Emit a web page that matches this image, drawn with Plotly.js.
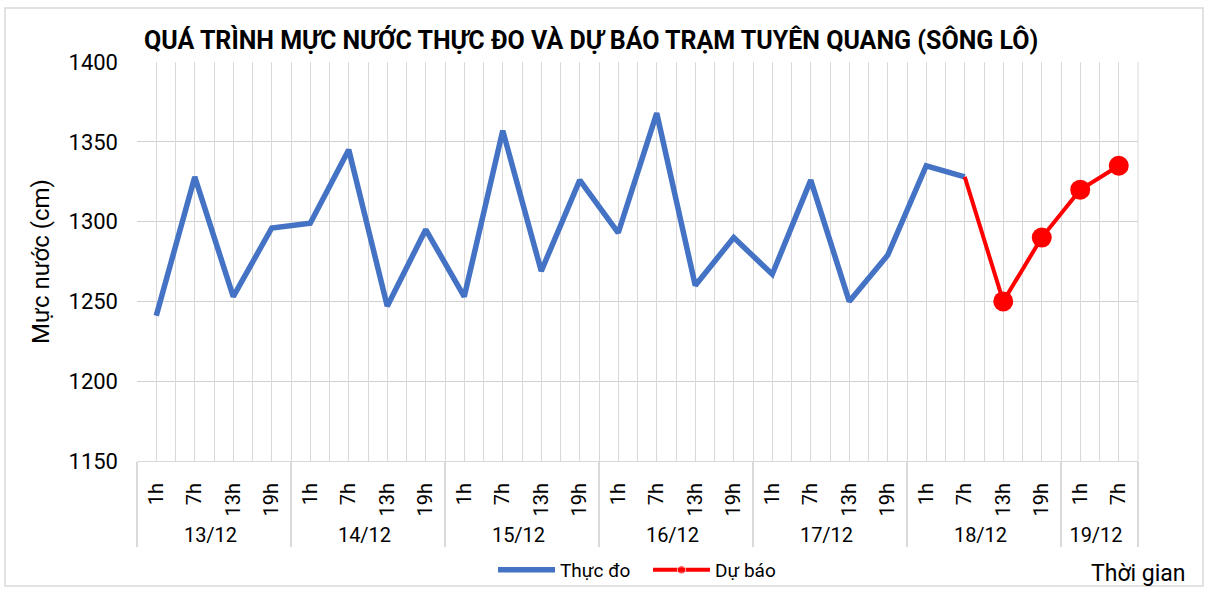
<!DOCTYPE html>
<html>
<head>
<meta charset="utf-8">
<script src="https://cdn.plot.ly/plotly-3.0.1.min.js"></script>
<style>html,body{margin:0;padding:0;background:#fff;}#chart{width:1209px;height:589px;}</style>
</head>
<body>
<div id="chart"></div>
<script>
// Categories
const days = ["13/12","13/12","13/12","13/12","14/12","14/12","14/12","14/12","15/12","15/12","15/12","15/12","16/12","16/12","16/12","16/12","17/12","17/12","17/12","17/12","18/12","18/12","18/12","18/12","19/12","19/12"];
const hours = ["1h","7h","13h","19h","1h","7h","13h","19h","1h","7h","13h","19h","1h","7h","13h","19h","1h","7h","13h","19h","1h","7h","13h","19h","1h","7h"];

// Observed (Thực đo): 13/12 1h .. 18/12 7h
const observed = [1241,1328,1253,1296,1299,1345,1247,1295,1253,1357,1269,1326,1293,1368,1260,1290,1267,1326,1250,1279,1335,1328];

// Forecast (Dự báo): 18/12 7h .. 19/12 7h
const forecastDays = ["18/12","18/12","18/12","19/12","19/12"];
const forecastHours = ["7h","13h","19h","1h","7h"];
const forecast = [1328,1250,1290,1320,1335];

const nObs = observed.length;
const nCat = hours.length;

const traces = [
  {
    // invisible helper to host the fine vertical grid
    type: "scatter", mode: "markers", x: [-0.5, nCat - 0.5], y: [1150, 1150],
    marker: {opacity: 0}, showlegend: false, hoverinfo: "skip",
    xaxis: "x2", yaxis: "y"
  },
  {
    type: "scatter", mode: "lines", name: "Thực đo",
    x: [days.slice(0, nObs), hours.slice(0, nObs)], y: observed,
    line: {color: "#4472C4", width: 5.5},
    xaxis: "x", yaxis: "y"
  },
  {
    type: "scatter", mode: "lines+markers", name: "Dự báo",
    x: [forecastDays, forecastHours], y: forecast,
    line: {color: "#FF0000", width: 4},
    marker: {color: "#FF0000", size: forecast.map((v, i) => i === 0 ? 0 : 10.5)},
    xaxis: "x", yaxis: "y"
  },
  {
    type: "scatter", mode: "markers", name: "Dự báo", showlegend: false,
    x: [forecastDays.slice(1), forecastHours.slice(1)], y: forecast.slice(1),
    marker: {color: "#FF0000", size: 20},
    xaxis: "x", yaxis: "y"
  }
];

const layout = {
  width: 1209, height: 589,
  margin: {l: 137, r: 71, t: 62, b: 128},
  paper_bgcolor: "#ffffff", plot_bgcolor: "#ffffff",
  font: {family: "Roboto, 'Open Sans', sans-serif", color: "#000"},
  title: {
    text: "<b>QUÁ TRÌNH MỰC NƯỚC THỰC ĐO VÀ DỰ BÁO TRẠM TUYÊN QUANG (SÔNG LÔ)</b>",
    font: {size: 25, color: "#000", family: "Roboto, sans-serif"},
    xref: "container", yref: "container",
    x: 0.489, xanchor: "center", y: 0.932, yanchor: "middle"
  },
  xaxis: {
    type: "multicategory",
    range: [-0.5, nCat - 0.5],
    automargin: false,
    showgrid: false, zeroline: false,
    tickangle: -90,
    tickfont: {size: 20, color: "#000"},
    ticklabelstandoff: 13,
    showline: true, linecolor: "#d9d9d9", linewidth: 1,
    ticks: "",
    showdividers: true, dividercolor: "#d9d9d9", dividerwidth: 2
  },
  xaxis2: {
    overlaying: "x", range: [-0.5, nCat - 0.5], automargin: false,
    tick0: -0.5, dtick: 0.5, showgrid: true, gridcolor: "#d9d9d9", gridwidth: 1,
    showticklabels: false, zeroline: false, ticks: "", layer: "below traces"
  },
  yaxis: {
    range: [1150, 1400], dtick: 50, automargin: false,
    showgrid: true, gridcolor: "#d0d0d0", gridwidth: 1,
    zeroline: false, showline: false, ticks: "",
    tickfont: {size: 22, color: "#000"},
    ticklabelstandoff: 18,
    title: {text: "Mực nước (cm)", font: {size: 24, color: "#000"}, standoff: 12}
  },
  showlegend: true,
  legend: {
    orientation: "h", xref: "container", yref: "container",
    x: 493 / 1209, xanchor: "left", y: 1 - 570 / 589, yanchor: "middle",
    font: {size: 19, color: "#000"}, traceorder: "normal",
    bgcolor: "rgba(0,0,0,0)", entrywidth: 83, itemwidth: 57
  },
  annotations: [
    {text: "Thời gian", xref: "paper", yref: "paper", x: 1.0, y: (461 - 573) / 398,
     xanchor: "center", yanchor: "middle", showarrow: false, font: {size: 23, color: "#000"}}
  ],
  shapes: [
    {type: "rect", xref: "paper", yref: "paper",
     x0: -132/1001, x1: (1203-137)/1001, y0: (461-586)/399, y1: (461-8)/399,
     line: {color: "#d9d9d9", width: 1.5}, fillcolor: "rgba(0,0,0,0)", layer: "below"},
    {type: "line", xref: "paper", yref: "paper", x0: 1, x1: 1, y0: 0, y1: 1,
     line: {color: "#d9d9d9", width: 1}}
  ]
};

Plotly.newPlot("chart", traces, layout, {displayModeBar: false, staticPlot: true});
</script>
</body>
</html>
